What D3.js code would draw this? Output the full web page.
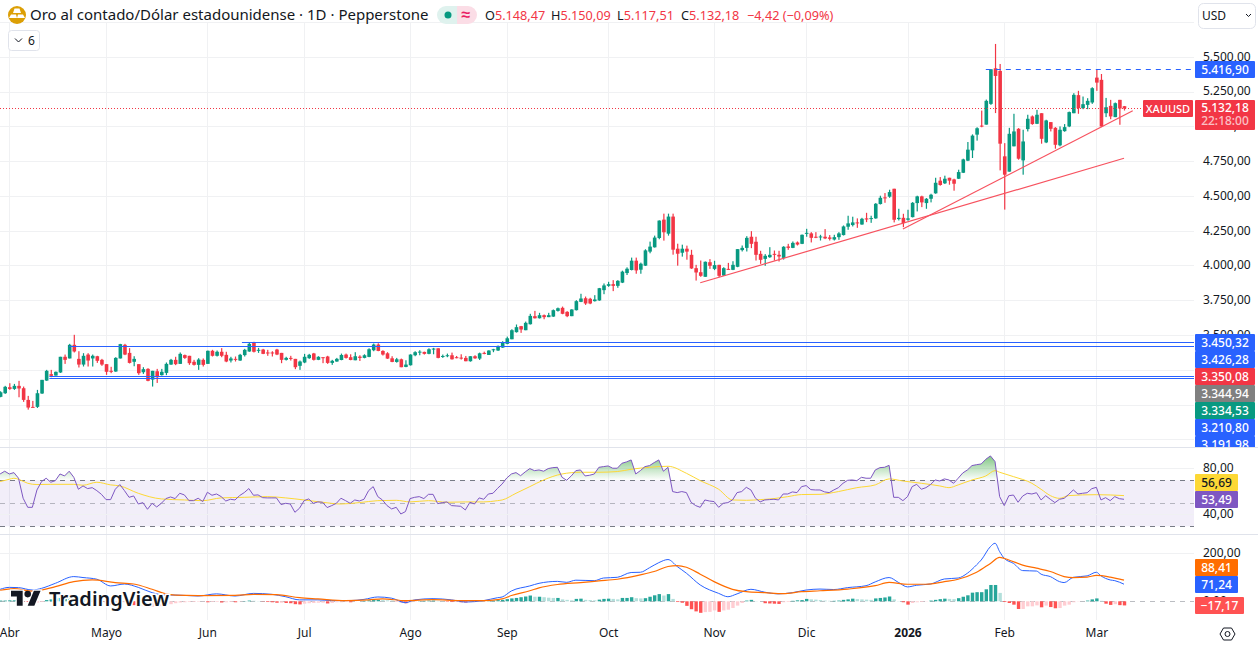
<!DOCTYPE html>
<html>
<head>
<meta charset="utf-8">
<style>
  html, body { margin: 0; padding: 0; background: #fff; overflow: hidden; }
  svg { display: block; }
  text { font-family: "Noto Sans", sans-serif; }
</style>
<script src="https://cdn.jsdelivr.net/npm/d3@7"></script>
</head>
<body>
<div class="chart"></div>
<script>
// daily candles, oldest first
var opens = [
  3059,3085,3128,3116,3138,3121,3037,2987,2987,3083,
  3176,3222,3212,3234,3347,3335,3433,3332,3291,3363,
  3335,3351,3325,3294,3246,3241,3335,3433,3375,3311,
  3294,3236,3260,3183,3243,3215,3231,3291,3325,3296,
  3359,3354,3311,3289,3325,3296,3390,3354,3383,3361,
  3320,3332,3320,3359,3385,3450,3392,3399,3378,3378,
  3399,3375,3325,3339,3332,3282,3306,3337,3371,3325,
  3344,3349,3303,3313,3324,3363,3344,3322,3348,3339,
  3346,3394,3435,3389,3372,3336,3310,3329,3274,3286,
  3358,3380,3382,3368,3401,3408,3348,3351,3358,3344,
  3341,3339,3315,3351,3334,3375,3360,3394,3392,3413,
  3440,3473,3524,3567,3538,3581,3639,3624,3646,3632,
  3636,3677,3699,3670,3639,3682,3742,3768,3764,3747,
  3752,3826,3857,3869,3857,3880,3949,3971,4038,3973,
  4002,4103,4134,4201,4333,4232,4355,4124,4095,4124,
  4080,3984,3955,3922,4027,3979,4008,3931,3979,3972,
  3994,4114,4130,4210,4174,4087,4051,4063,4087,4080,
  4058,4140,4130,4169,4159,4234,4234,4210,4205,4210,
  4205,4190,4207,4222,4282,4294,4313,4298,4342,4337,
  4342,4445,4493,4498,4555,4337,4346,4332,4351,4452,
  4500,4452,4483,4522,4613,4594,4634,4622,4627,4670,
  4757,4831,4944,5009,5016,5165,5421,5402,4788,4678,
  4860,4986,4759,4984,5075,5022,5098,4888,5034,4993,
  4867,4969,5003,5098,5228,5134,5158,5175,5354,5338,
  5098,5151,5070,5194,5148.47];

var highs = [
  3099,3138,3157,3152,3174,3133,3066,3030,3109,3181,
  3253,3253,3241,3347,3363,3440,3505,3387,3373,3373,
  3363,3354,3332,3294,3275,3344,3440,3440,3409,3351,
  3294,3272,3265,3246,3260,3260,3306,3332,3347,3378,
  3363,3354,3325,3337,3335,3392,3397,3392,3409,3383,
  3347,3349,3368,3404,3450,3455,3411,3404,3397,3387,
  3404,3375,3347,3354,3332,3320,3368,3368,3375,3351,
  3344,3354,3325,3339,3370,3370,3365,3380,3358,3365,
  3408,3442,3444,3394,3380,3351,3339,3334,3322,3365,
  3387,3394,3384,3408,3411,3408,3363,3370,3377,3353,
  3365,3353,3351,3358,3377,3384,3394,3404,3428,3459,
  3492,3545,3579,3569,3600,3656,3677,3663,3651,3663,
  3687,3701,3708,3675,3689,3754,3800,3780,3771,3790,
  3842,3874,3886,3898,3898,3966,3990,4060,4060,4024,
  4120,4175,4218,4328,4376,4376,4376,4160,4153,4146,
  4116,4008,4039,4032,4049,4037,4008,3991,4022,4034,
  4121,4147,4214,4250,4210,4109,4085,4135,4111,4109,
  4142,4159,4176,4176,4226,4267,4243,4243,4224,4265,
  4222,4224,4243,4291,4361,4354,4342,4346,4382,4361,
  4452,4505,4524,4548,4555,4411,4375,4404,4459,4505,
  4505,4488,4519,4634,4639,4649,4634,4627,4692,4771,
  4891,4946,4997,5117,5196,5414,5596,5452,4883,4993,
  5094,4991,4979,5087,5082,5122,5098,5051,5034,4998,
  5003,5020,5110,5242,5259,5218,5206,5285,5414,5380,
  5208,5194,5175,5194,5150.09];

var lows = [
  3056,3080,3109,3109,3056,3023,2967,2982,2979,3080,
  3174,3200,3212,3231,3296,3335,3378,3270,3277,3277,
  3277,3303,3282,3217,3229,3239,3335,3359,3299,3279,
  3217,3224,3171,3133,3159,3212,3215,3289,3287,3296,
  3332,3289,3284,3253,3277,3296,3349,3349,3344,3308,
  3306,3313,3318,3349,3383,3378,3375,3366,3354,3349,
  3359,3301,3320,3320,3258,3253,3301,3332,3320,3323,
  3301,3296,3289,3311,3322,3334,3322,3322,3317,3336,
  3344,3387,3387,3356,3332,3308,3305,3272,3272,3284,
  3351,3358,3363,3365,3365,3336,3339,3344,3327,3336,
  3327,3315,3312,3332,3324,3365,3360,3380,3389,3411,
  3437,3473,3521,3519,3538,3579,3622,3622,3617,3632,
  3634,3672,3653,3632,3639,3680,3740,3720,3725,3744,
  3750,3797,3850,3819,3843,3877,3935,3968,3944,3944,
  4000,4091,4132,4192,4182,4218,4081,4002,4067,4045,
  3979,3895,3922,3922,3979,3970,3919,3929,3972,3970,
  3991,4104,4104,4128,4039,4015,4001,4058,4039,4032,
  4046,4116,4128,4147,4157,4210,4169,4200,4183,4193,
  4183,4183,4188,4219,4260,4284,4274,4296,4315,4310,
  4339,4442,4454,4490,4313,4327,4279,4325,4349,4392,
  4423,4411,4457,4519,4577,4589,4584,4541,4625,4668,
  4754,4776,4901,4997,5016,5158,5099,4687,4405,4678,
  4860,4764,4656,4967,5015,5020,4879,4883,4967,4843,
  4860,4965,4998,5098,5094,5127,5127,5165,5259,4998,
  5070,5055,5070,5015,5117.51];

var closes = [
  3092,3131,3116,3138,3119,3037,2982,2982,3085,3181,
  3246,3210,3239,3347,3325,3433,3385,3291,3354,3320,
  3354,3318,3291,3239,3241,3339,3438,3363,3303,3332,
  3229,3258,3174,3246,3200,3239,3296,3325,3294,3368,
  3339,3301,3289,3327,3289,3390,3354,3383,3354,3313,
  3335,3325,3361,3397,3440,3383,3397,3368,3373,3371,
  3363,3325,3339,3332,3272,3313,3347,3361,3325,3347,
  3339,3303,3318,3332,3360,3339,3324,3351,3339,3358,
  3401,3435,3389,3363,3334,3310,3329,3272,3291,3363,
  3380,3384,3368,3401,3406,3339,3353,3358,3329,3339,
  3336,3315,3351,3336,3372,3370,3392,3401,3425,3452,
  3480,3538,3560,3543,3591,3641,3624,3646,3632,3646,
  3682,3696,3656,3639,3687,3747,3766,3730,3730,3759,
  3840,3860,3869,3857,3893,3959,3980,4038,3968,4016,
  4112,4139,4204,4326,4242,4355,4117,4088,4124,4103,
  3982,3953,3929,4030,4001,4006,3929,3984,3974,4008,
  4121,4130,4202,4159,4080,4044,4073,4080,4080,4068,
  4138,4130,4166,4154,4224,4238,4202,4205,4212,4198,
  4195,4207,4234,4284,4306,4313,4306,4339,4334,4344,
  4447,4490,4488,4531,4332,4346,4308,4342,4454,4500,
  4457,4483,4512,4598,4582,4627,4613,4591,4675,4766,
  4836,4937,4990,5002,5187,5414,5366,4879,4656,4950,
  4967,4771,4895,5058,5020,5087,4914,5046,4986,4871,
  4979,4998,5106,5230,5134,5163,5187,5278,5318,5003,
  5141,5075,5170,5132,5132.18];

// rsi per bar
var rsiValues = [
  75.5,77.9,75.5,76.7,71.8,54.4,46.5,46.5,61.6,68.9,
  71.8,68.3,69.7,75.5,73.8,77.9,72.6,62.2,65.1,62.8,
  63.6,61,57.8,53.2,53.2,62.2,66.3,61,55.2,56.4,
  49.4,50.6,44.8,50,46.8,50,54.1,55.5,54.1,58.7,
  57.3,52.3,52.3,54.4,51.5,59.6,57,58.1,55.8,52,
  53.5,52.9,56.7,59.3,62.8,57,57.3,54.9,54.7,54.7,
  54.7,48.9,50,49.4,42.2,45.7,52.3,53.8,50,51.2,
  50.9,46.3,48,50,54.4,52.3,50,52.9,52,53.5,
  61,64.5,55.8,52.9,48,45.1,46.5,40.7,42.8,54.1,
  55.2,55.8,54.1,57.8,57.8,49.7,50.6,51.2,48,47.7,
  47.4,44.2,50.9,49.4,54.7,53.5,58.1,58.7,63,66.8,
  72,75.5,76.7,74,77.3,80.2,78.4,79,77.9,80.2,
  81,81.3,72.6,70,73.8,78.4,79,73.8,74.4,75.5,
  81.3,81.9,82.5,80.5,80.5,84.8,86,87.7,75.5,78.4,
  81.9,82.8,85.4,87.7,77.9,81.3,60.2,59.3,60.2,59.3,
  50.9,48,46.5,52.9,52,51.5,46.5,50,50.6,52.9,
  59.3,60.2,63.9,61.6,54.4,51.2,52.9,53.2,53.5,52.9,
  58.1,58.1,59.9,59.3,64.5,65.4,61.9,61.6,61.6,59.9,
  59.3,61.6,63.6,67.4,70,70.3,69.7,72.6,71.8,71.8,
  79,81,81.3,83,55.2,55.2,52.3,55.8,64.5,66.5,
  62.2,63.6,66.3,70.3,69.4,71.2,70.3,67.4,71.8,76.4,
  79,82.8,83.6,84.2,88.3,91.2,86.3,55.8,48,56.6,
  57.2,50.9,56.3,58.7,58.1,59.2,52.9,56.6,53.5,50.6,
  53.5,54.3,57.8,61.6,58.1,58.7,59.2,62.7,63.9,52.9,
  54.9,52.3,55.8,54,53.49];

// rsi moving average, read at these bars
var rsiMaBars = [0,2,3,4,6,8,11,16,18,21,24,26,30,35,40,44,48,53,58,62,66,70,74,78,82,86,89,93,97,101,105,108,
  109,112,115,118,122,126,130,134,137,141,145,149,152,156,159,162,165,168,171,174,178,182,186,190,193,196,200,204,206,208,211,214,216,217,220,224,226,228,230,232,238,244];
var rsiMaValues = [68.9,70.9,71.8,70.9,67.4,66.3,66.5,66.5,65.7,68.3,66,65.1,58.7,53.8,52.9,52.3,54.7,55.2,55.8,54.7,52.9,50.9,49.4,50.6,52.3,52.6,51.2,52.3,50.9,51.2,51.2,52.3,
  52.9,58.7,64.5,70.3,75.5,77,77,77.6,79.6,81.3,82.2,76.1,69.7,62.2,52.9,52.6,53.2,54.1,55.8,57.6,57.8,60.2,63.6,66,71.2,69.4,67.4,65.1,63.6,66,70.3,73.8,78.4,77,73.2,67.4,62.2,56.7,54.3,56.7,57.5,56.69];

// macd line and signal, read at these bars
var macdBars = [0,2,4,7,9,12,16,18,21,24,27,30,33,36,38,43,47,51,55,59,62,65,69,72,76,79,82,85,88,90,94,98,101,105,108,
  109,111,115,117,121,123,125,129,131,134,137,139,141,143,145,147,149,152,156,158,160,163,166,169,172,175,178,181,184,188,190,193,195,197,199,202,205,208,210,212,213,215,216,217,
  218,220,222,225,226,228,230,231,233,236,238,239,241,242,244];
var macdValues = [50,58,57,47,54,75,103,99,92,64,72,58,36,26,26,22,31,22,33,29,19,6,6,3,3,8,18,13,-6,6,11,6,-3,3,15,
  18,43,64,75,83,79,88,86,97,100,120,121,140,161,174,145,117,68,33,19,31,50,38,31,36,47,51,49,57,65,81,99,79,60,67,72,93,97,117,152,172,228,242,207,
  179,158,128,126,113,103,82,78,100,106,121,106,89,86,71.24];
var signalBars = [0,3,7,9,12,16,20,25,29,33,36,38,43,51,55,60,65,69,75,80,83,88,94,100,105,108,
  109,111,115,117,121,126,130,134,139,142,145,147,149,152,155,159,162,166,170,174,178,184,190,193,197,201,205,208,212,215,217,
  219,222,225,228,231,233,236,238,241,244];
var signalValues = [46,53,42,47,61,82,89,78,72,50,31,26,24,25,29,28,15,10,3,6,10,3,7,3,3,7,
  10,24,44,56,70,78,85,92,110,124,145,149,142,113,82,50,40,36,32,40,44,51,65,79,71,71,82,92,121,158,183,
  172,151,138,124,103,99,101,108,101,88.41];

// macd histogram per bar
var histValues = [
  3,3,4,4,2,-1,-3,-5,-5,-3,
  5,8,12,14,17,20,22,18,15,12,
  8,3,-3,-8,-13,-12,-6,-4,-12,-16,
  -21,-20,-24,-23,-22,-20,-14,-12,-8,-5,
  -4,-3,-3,-2,-1,-4,-3,-3,-5,-4,
  -3,-4,-1,1,3,2,1,-1,-3,-4,
  -6,-6,-7,-8,-12,-13,-10,-8,-7,-6,
  -6,-9,-7,-4,-4,-2,-4,-1,0,2,
  4,5,6,5,4,3,-1,-4,-8,-4,
  -2,1,2,3,3,2,1,-2,-3,-3,
  -4,-5,-4,-3,-2,-1,1,3,5,6,
  9,12,14,17,20,24,19,19,17,15,
  14,14,8,6,4,10,11,6,5,4,
  7,10,11,10,8,14,14,17,13,12,
  13,19,25,30,24,30,10,-3,-6,-19,
  -33,-42,-48,-45,-44,-38,-44,-38,-35,-28,
  -18,-7,3,6,1,0,-8,-9,-10,-11,
  -4,-3,2,4,5,10,8,7,5,3,
  2,2,3,6,8,11,9,8,7,6,
  12,14,16,20,8,1,-4,-14,-7,-4,
  -3,-1,3,6,9,11,10,9,13,19,
  25,36,38,38,50,68,68,35,-3,-7,
  -14,-32,-32,-21,-21,-17,-25,-18,-24,-29,
  -28,-18,-14,-4,-1,0,3,8,12,2,
  -10,-15,-12,-16,-17.17];

var timeTicks = [2,23,45,66,89,110,132,155,175,197,218,238]
  , timeLabels = ['Abr','Mayo','Jun','Jul','Ago','Sep','Oct','Nov','Dic','2026','Feb','Mar']
  , priceTicks = [5750,5500,5250,5000,4750,4500,4250,4000,3750,3500,3250,3000,2750]
  , rsiTicks = [80,40]
  , macdTicks = [200,0];

// drawings
var levelPrices = [3450.32,3426.28,3210.80,3191.98]
  , levelStarts = [52.5,15,10.7,10.7]
  , highLevel = 5416.90
  , highLevelStart = 214
  , trendFrom = [[152,3879],[196,4265]]
  , trendTo = [[244,4774],[245.9,5116]];

// stacked tags on the price scale
var tagValues = [3450.32,3426.28,3350.08,3344.94,3334.53,3210.80,3191.98]
  , tagColors = ['#2962ff','#2962ff','#f23645','#808080','#089981','#2962ff','#2962ff'];

var width = 1258
  , height = 647
  , plotRight = 1194
  , green = '#089981'
  , red = '#f23645'
  , gridColor = '#f0f1f3'
  , textColor = '#131722';

var svg = d3.select('.chart').append('svg')
            .attr('width', width)
            .attr('height', height);

var x = d3.scaleLinear().domain([0, 244]).range([0.1, 1124]);

// one price scale per pane
var y = d3.scaleLinear().domain([3500, 5500]).range([335.5, 57.3])
  , yRsi = d3.scaleLinear().domain([30, 70]).range([526.3, 480.3])
  , yMacd = d3.scaleLinear().domain([0, 200]).range([601.3, 553.3]);

var fmt = d3.formatLocale({ decimal: ',', thousands: '.', grouping: [3], currency: ['', ''], minus: '\u2212' })
            .format(',.2f');

var defs = svg.append('defs');

var clipRect = function (id, cx, cy, w, h) {
  defs.append('clipPath').attr('id', id).append('rect')
      .attr('x', cx).attr('y', cy).attr('width', w).attr('height', h);
};
clipRect('plotClip', 0, 23, plotRight, 424);
clipRect('axisClip', plotRight, 0, 64, 447);
clipRect('rsiClip', 0, 448, plotRight, 86);
clipRect('obClip', 0, 448, plotRight, yRsi(70) - 448);
clipRect('macdClip', 0, 535, plotRight, 85);

var obGrad = defs.append('linearGradient').attr('id', 'obGrad')
    .attr('gradientUnits', 'userSpaceOnUse')
    .attr('x1', 0).attr('x2', 0).attr('y1', yRsi(100)).attr('y2', yRsi(70));
obGrad.append('stop').attr('offset', 0).attr('stop-color', '#4caf50').attr('stop-opacity', 1);
obGrad.append('stop').attr('offset', 1).attr('stop-color', '#4caf50').attr('stop-opacity', 0);

// grid
var gridG = svg.append('g').attr('shape-rendering', 'crispEdges').attr('stroke', gridColor);

gridG.selectAll('.vgrid').data(timeTicks).enter().append('line')
    .attr('x1', function (d) { return Math.round(x(d)) + 0.5; })
    .attr('x2', function (d) { return Math.round(x(d)) + 0.5; })
    .attr('y1', 23).attr('y2', 620);

gridG.selectAll('.hgrid').data(priceTicks).enter().append('line')
    .attr('x1', 0).attr('x2', plotRight)
    .attr('y1', function (d) { return y(d); })
    .attr('y2', function (d) { return y(d); });

// candles
var candleG = svg.append('g').attr('clip-path', 'url(#plotClip)');

var candleColor = function (i) {
  return closes[i] < opens[i] ? red : green;
};

candleG.selectAll('.wick').data(d3.range(opens.length)).enter().append('rect')
    .attr('x', function (i) { return x(i) - 0.1; })
    .attr('width', 1.2)
    .attr('y', function (i) { return y(highs[i]); })
    .attr('height', function (i) { return y(lows[i]) - y(highs[i]); })
    .attr('fill', candleColor);

candleG.selectAll('.body').data(d3.range(opens.length)).enter().append('rect')
    .attr('x', function (i) { return x(i) - 1.3; })
    .attr('width', 3.6)
    .attr('y', function (i) { return y(Math.max(opens[i], closes[i])); })
    .attr('height', function (i) { return Math.max(1, Math.abs(y(opens[i]) - y(closes[i]))); })
    .attr('fill', candleColor);

// horizontal levels and trend lines
var drawG = svg.append('g').attr('clip-path', 'url(#plotClip)');

drawG.selectAll('.level').data(levelPrices).enter().append('line')
    .attr('x1', function (d, i) { return x(levelStarts[i]); })
    .attr('x2', plotRight)
    .attr('y1', function (d) { return Math.round(y(d)) + 0.5; })
    .attr('y2', function (d) { return Math.round(y(d)) + 0.5; })
    .attr('stroke', '#2962ff')
    .attr('stroke-width', 1.2);

drawG.append('line')
    .attr('x1', x(highLevelStart)).attr('x2', plotRight)
    .attr('y1', Math.round(y(highLevel)) + 0.5).attr('y2', Math.round(y(highLevel)) + 0.5)
    .attr('stroke', '#2962ff')
    .attr('stroke-dasharray', '5 5');

drawG.append('line')
    .attr('x1', 0).attr('x2', plotRight)
    .attr('y1', Math.round(y(closes[244])) + 0.5).attr('y2', Math.round(y(closes[244])) + 0.5)
    .attr('stroke', red)
    .attr('stroke-dasharray', '1 2');

drawG.selectAll('.trend').data(trendFrom).enter().append('line')
    .attr('x1', function (d) { return x(d[0]); })
    .attr('y1', function (d) { return y(d[1]); })
    .attr('x2', function (d, i) { return x(trendTo[i][0]); })
    .attr('y2', function (d, i) { return y(trendTo[i][1]); })
    .attr('stroke', '#f7525f')
    .attr('stroke-width', 1.2);

// rsi pane
var rsiG = svg.append('g').attr('clip-path', 'url(#rsiClip)');

rsiG.append('rect')
    .attr('x', 0).attr('width', plotRight)
    .attr('y', yRsi(70)).attr('height', yRsi(30) - yRsi(70))
    .attr('fill', '#7e57c2').attr('fill-opacity', 0.1);

rsiG.selectAll('.rsigrid').data(rsiTicks).enter().append('line')
    .attr('x1', 0).attr('x2', plotRight)
    .attr('y1', function (d) { return yRsi(d); })
    .attr('y2', function (d) { return yRsi(d); })
    .attr('stroke', gridColor)
    .attr('shape-rendering', 'crispEdges');

rsiG.selectAll('.rsiband').data([70, 50, 30]).enter().append('line')
    .attr('x1', 0).attr('x2', plotRight)
    .attr('y1', function (d) { return Math.round(yRsi(d)) + 0.5; })
    .attr('y2', function (d) { return Math.round(yRsi(d)) + 0.5; })
    .attr('stroke', '#787b86')
    .attr('stroke-opacity', function (d) { return d === 50 ? 0.5 : 1; })
    .attr('stroke-dasharray', '5 5');

rsiG.append('path')
    .datum(rsiValues)
    .attr('clip-path', 'url(#obClip)')
    .attr('fill', 'url(#obGrad)')
    .attr('d', d3.area()
      .x(function (d, i) { return x(i); })
      .y0(yRsi(70))
      .y1(function (d) { return yRsi(d); }));

rsiG.append('path')
    .datum(rsiMaBars)
    .attr('fill', 'none')
    .attr('stroke', '#fdd835')
    .attr('d', d3.line()
      .x(function (d) { return x(d); })
      .y(function (d, i) { return yRsi(rsiMaValues[i]); })
      .curve(d3.curveMonotoneX));

rsiG.append('path')
    .datum(rsiValues)
    .attr('fill', 'none')
    .attr('stroke', '#7e57c2')
    .attr('d', d3.line()
      .x(function (d, i) { return x(i); })
      .y(function (d) { return yRsi(d); }));

// macd pane
var macdG = svg.append('g').attr('clip-path', 'url(#macdClip)');

macdG.selectAll('.macdgrid').data(macdTicks.slice(0, 1)).enter().append('line')
    .attr('x1', 0).attr('x2', plotRight)
    .attr('y1', function (d) { return yMacd(d); })
    .attr('y2', function (d) { return yMacd(d); })
    .attr('stroke', gridColor)
    .attr('shape-rendering', 'crispEdges');

macdG.append('line')
    .attr('x1', 0).attr('x2', plotRight)
    .attr('y1', Math.round(yMacd(0)) + 0.5).attr('y2', Math.round(yMacd(0)) + 0.5)
    .attr('stroke', '#787b86')
    .attr('stroke-opacity', 0.5)
    .attr('stroke-dasharray', '5 5');

var histColor = function (d, i) {
  var prev = i > 0 ? histValues[i - 1] : d;
  if (d >= 0) return d >= prev ? '#26a69a' : '#b2dfdb';
  return d < prev ? '#ff5252' : '#ffcdd2';
};

macdG.selectAll('.hist').data(histValues).enter().append('rect')
    .attr('x', function (d, i) { return x(i) - 1.2; })
    .attr('width', 3.4)
    .attr('y', function (d) { return Math.min(yMacd(d), yMacd(0)); })
    .attr('height', function (d) { return Math.abs(yMacd(d) - yMacd(0)); })
    .attr('fill', histColor);

macdG.append('path')
    .datum(macdBars)
    .attr('fill', 'none')
    .attr('stroke', '#2962ff')
    .attr('d', d3.line()
      .x(function (d) { return x(d); })
      .y(function (d, i) { return yMacd(macdValues[i]); })
      .curve(d3.curveMonotoneX));

macdG.append('path')
    .datum(signalBars)
    .attr('fill', 'none')
    .attr('stroke', '#ff6d00')
    .attr('stroke-width', 1.2)
    .attr('d', d3.line()
      .x(function (d) { return x(d); })
      .y(function (d, i) { return yMacd(signalValues[i]); })
      .curve(d3.curveMonotoneX));

// pane separators
svg.selectAll('.sep').data([447.5, 534.5]).enter().append('line')
    .attr('x1', 0).attr('x2', width)
    .attr('y1', function (d) { return d; })
    .attr('y2', function (d) { return d; })
    .attr('stroke', '#e0e3eb')
    .attr('stroke-width', 1);

// axes
var styleAxis = function (g) {
  g.select('.domain').remove();
  g.selectAll('text')
    .attr('fill', textColor)
    .style('font-size', '12px')
    .style('font-family', '"Noto Sans", sans-serif');
};

svg.append('g')
    .attr('clip-path', 'url(#axisClip)')
  .append('g')
    .attr('transform', 'translate(1203,-1)')
    .call(d3.axisRight(y).tickValues(priceTicks.slice(1, 10)).tickFormat(fmt).tickSize(0).tickPadding(0))
    .call(styleAxis);

svg.append('g')
    .attr('transform', 'translate(1203,-1)')
    .call(d3.axisRight(yRsi).tickValues(rsiTicks).tickFormat(fmt).tickSize(0).tickPadding(0))
    .call(styleAxis);

svg.append('g')
    .attr('transform', 'translate(1203,-1)')
    .call(d3.axisRight(yMacd).tickValues(macdTicks).tickFormat(fmt).tickSize(0).tickPadding(0))
    .call(styleAxis);

svg.append('g')
    .attr('transform', 'translate(0,628)')
    .call(d3.axisBottom(x).tickValues(timeTicks)
      .tickFormat(function (d, i) { return timeLabels[i]; }).tickSize(0).tickPadding(0))
    .call(styleAxis)
    .selectAll('text')
    .style('font-weight', function (d, i) { return timeLabels[i] === '2026' ? 700 : 400; });

// value tags
var drawTag = function (g, tx, ty, w, h, fill, label, labelFill, size) {
  g.append('rect')
      .attr('x', tx).attr('y', ty).attr('width', w).attr('height', h)
      .attr('rx', 1)
      .attr('fill', fill);
  g.append('text')
      .attr('x', tx + w / 2).attr('y', ty + h / 2 + 4)
      .attr('text-anchor', 'middle')
      .attr('fill', labelFill || '#fff')
      .style('font-size', (size || 12) + 'px')
      .style('font-weight', 500)
      .text(label);
};

var tagG = svg.append('g').attr('clip-path', 'url(#axisClip)');
tagValues.forEach(function (v, i) {
  drawTag(tagG, 1195, 334 + i * 17, 60, 17, tagColors[i], fmt(v));
});
drawTag(tagG, 1195, 61, 60, 17, '#2962ff', fmt(highLevel));

// last price with countdown
svg.append('rect')
    .attr('x', 1195).attr('y', 100).attr('width', 60).attr('height', 30)
    .attr('rx', 1).attr('fill', red);
svg.append('text')
    .attr('x', 1225).attr('y', 112)
    .attr('text-anchor', 'middle').attr('fill', '#fff')
    .style('font-size', '12px').style('font-weight', 500)
    .text(fmt(closes[244]));
svg.append('text')
    .attr('x', 1225).attr('y', 125)
    .attr('text-anchor', 'middle').attr('fill', '#fff').attr('fill-opacity', 0.7)
    .style('font-size', '12px').style('font-weight', 500)
    .text('22:18:00');
drawTag(svg, 1143, 100, 50, 17, red, 'XAUUSD', '#fff', 11);

drawTag(svg, 1195, 474, 43, 17, '#fdd835', fmt(rsiMaValues[rsiMaValues.length - 1]), textColor);
drawTag(svg, 1195, 491, 43, 17, '#7e57c2', fmt(rsiValues[244]));
drawTag(svg, 1195, 559, 43, 17, '#ff6d00', fmt(signalValues[signalValues.length - 1]));
drawTag(svg, 1195, 576, 43, 17, '#2962ff', fmt(macdValues[macdValues.length - 1]));
drawTag(svg, 1195, 597, 49, 17, '#ff5252', fmt(histValues[244]));

// header
var headerG = svg.append('g');

headerG.append('circle').attr('cx', 17).attr('cy', 15).attr('r', 9).attr('fill', '#dc9f05');
headerG.append('path')
    .attr('d', 'M14.5 8.5h5l1.5 4.5h-8zM11 14.5h5l1 3.5h-8zM18 14.5h5l2 3.5h-8z')
    .attr('fill', '#fff');

headerG.append('text')
    .attr('x', 30).attr('y', 20)
    .attr('fill', textColor)
    .style('font-size', '15px')
    .text('Oro al contado/Dólar estadounidense · 1D · Pepperstone');

headerG.append('path').attr('d', 'M457 6h-11a9 9 0 0 0 0 18h11z').attr('fill', '#dff2ee');
headerG.append('path').attr('d', 'M457 6h11a9 9 0 0 1 0 18h-11z').attr('fill', '#fbdde6');
headerG.append('circle').attr('cx', 448).attr('cy', 15).attr('r', 3.5).attr('fill', green);
headerG.append('text')
    .attr('x', 466).attr('y', 20)
    .attr('text-anchor', 'middle').attr('fill', '#e91e63')
    .style('font-size', '16px').style('font-weight', 700).text('≈');

var ohlcNames = ['O', 'H', 'L', 'C']
  , ohlcValues = [opens[244], highs[244], lows[244], closes[244]]
  , ohlcXs = [485, 551, 617, 681];

ohlcNames.forEach(function (n, i) {
  var t = headerG.append('text')
      .attr('x', ohlcXs[i]).attr('y', 20)
      .style('font-size', '12.7px');
  t.append('tspan').attr('fill', textColor).text(n);
  t.append('tspan').attr('fill', red).text(fmt(ohlcValues[i]));
});

headerG.append('text')
    .attr('x', 747).attr('y', 20)
    .attr('fill', red)
    .style('font-size', '12.7px')
    .text('\u22124,42 (\u22120,09%)');

// collapsed legend button
headerG.append('rect')
    .attr('x', 8.5).attr('y', 30.5).attr('width', 31).attr('height', 20)
    .attr('rx', 3).attr('fill', '#fff').attr('stroke', '#e0e3eb');
headerG.append('path')
    .attr('d', 'M15 38.5l3.5 3.5 3.5-3.5')
    .attr('fill', 'none').attr('stroke', textColor);
headerG.append('text')
    .attr('x', 28).attr('y', 45)
    .attr('fill', textColor)
    .style('font-size', '12px').text('6');

// currency button
headerG.append('rect')
    .attr('x', 1198.5).attr('y', 3.5).attr('width', 57).attr('height', 25)
    .attr('rx', 5).attr('fill', '#fff').attr('stroke', '#e0e3eb');
headerG.append('text')
    .attr('x', 1202).attr('y', 20)
    .attr('fill', textColor)
    .style('font-size', '12px').text('USD');
headerG.append('path')
    .attr('d', 'M1246 14l2.5 2.5 2.5-2.5')
    .attr('fill', 'none').attr('stroke', textColor);

// settings icon
headerG.append('path')
    .attr('d', 'M1220 634l3.5-6h8l3.5 6-3.5 6h-8z')
    .attr('fill', 'none').attr('stroke', textColor);
headerG.append('circle')
    .attr('cx', 1227.5).attr('cy', 634).attr('r', 2.5)
    .attr('fill', 'none').attr('stroke', textColor);

// logo
var logoG = svg.append('g');

logoG.append('path')
    .attr('transform', 'translate(11,587.4) scale(0.833)')
    .attr('d', 'M14 22H7V11H0V4h14v18zM28 22h-8l7.5-18h8L28 22z')
    .attr('fill', textColor)
    .attr('stroke', '#fff').attr('stroke-width', 3).attr('paint-order', 'stroke');
logoG.append('circle')
    .attr('cx', 27.7).attr('cy', 594.1).attr('r', 3.3)
    .attr('fill', textColor);
logoG.append('text')
    .attr('x', 49).attr('y', 606)
    .attr('fill', textColor)
    .attr('stroke', '#fff').attr('stroke-width', 3).attr('paint-order', 'stroke')
    .style('font-size', '20px')
    .style('font-weight', 600)
    .text('TradingView');
</script>
</body>
</html>
